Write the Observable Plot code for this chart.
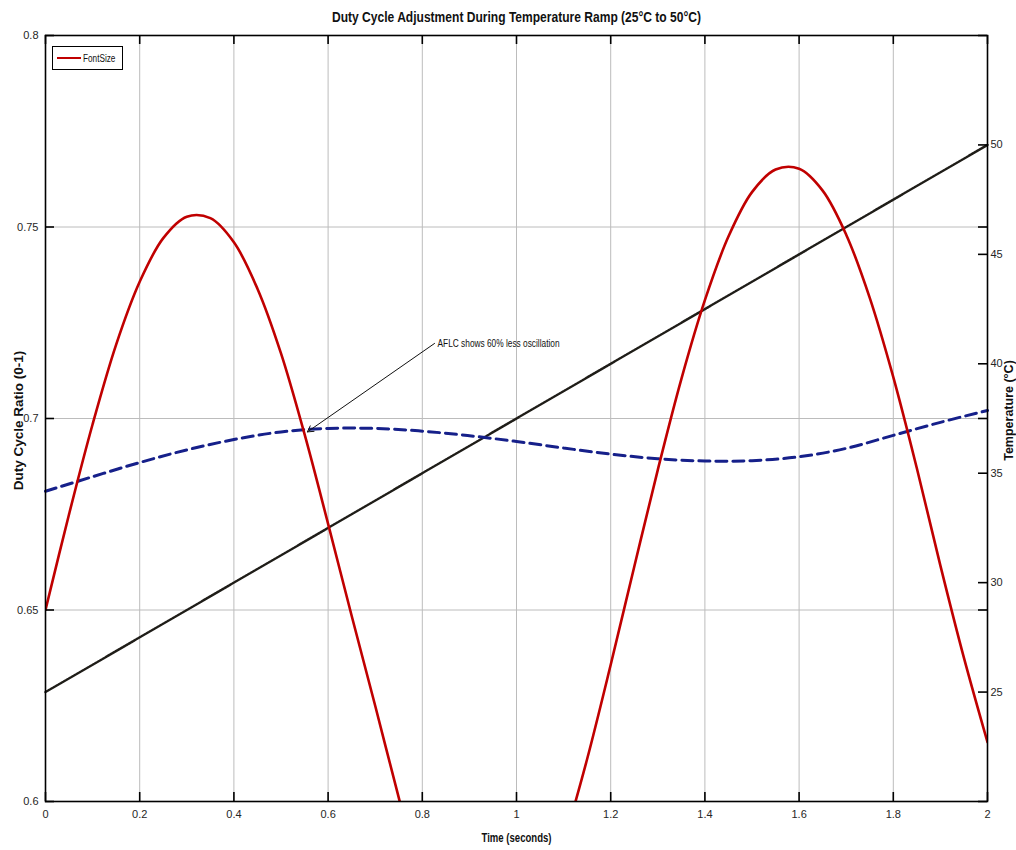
<!DOCTYPE html>
<html><head><meta charset="utf-8">
<script src="https://cdn.jsdelivr.net/npm/d3@7"></script>
<script src="https://cdn.jsdelivr.net/npm/@observablehq/plot@0.6"></script>
<style>
body{margin:0;background:#fff;}
#wrap{position:relative;width:1016px;height:850px;overflow:hidden;}
#legend{position:absolute;left:52px;top:46px;width:69px;height:22px;border:1px solid #000;background:#fff;
 font-family:"Liberation Sans",Arial,sans-serif;font-size:10px;color:#111;display:flex;align-items:center;}
#legend .sw{display:inline-block;width:27px;height:0;border-top:2.5px solid #c00000;margin:0 2px 0 4px;}
#legend .lab{display:inline-block;transform:scaleX(0.82);transform-origin:left center;white-space:nowrap;}
</style></head><body><div id="wrap"><div id="legend"><span class="sw"></span><span class="lab"></span></div></div>
<script>
const titleText = "Duty Cycle Adjustment During Temperature Ramp (25°C to 50°C)";
const xLabel = "Time (seconds)";
const yLabel = "Duty Cycle Ratio (0-1)";
const y2Label = "Temperature (°C)";
const legendLabel = "FontSize";

const redTime = [0,0.05,0.1,0.15,0.2,0.25,0.3,0.35,0.4,0.45,0.5,0.55,0.6,0.65,0.7,0.75,0.8,0.85,0.9,0.95,1.0,
  1.05,1.1,1.15,1.2,1.25,1.3,1.35,1.4,1.45,1.5,1.55,1.6,1.65,1.7,1.75,1.8,1.85,1.9,1.95,2.0];
const redDuty = [0.650,0.675,0.6985,0.7193,0.7357,0.7471,0.7527,0.7523,0.7460,0.7339,0.7170,0.6959,0.6725,0.6485,
  0.6250,0.6010,0.5780,0.5590,0.5460,0.5400,0.5480,0.5680,0.5890,0.6111,0.6357,0.6613,0.6866,0.7103,0.7309,0.7475,
  0.7591,0.7650,0.7652,0.7595,0.7480,0.7315,0.7108,0.6870,0.6616,0.6375,0.6155];

const blueTime = [0,0.1,0.2,0.3,0.4,0.5,0.6,0.7,0.8,0.9,1.0,1.1,1.2,1.3,1.4,1.5,1.6,1.7,1.8,1.9,2.0];
const blueDuty = [0.681,0.6848,0.6885,0.6918,0.6945,0.6965,0.6974,0.6974,0.6967,0.6955,0.6940,0.6923,0.6907,
  0.6895,0.6889,0.6890,0.6900,0.6922,0.6956,0.6990,0.7021];

const tempTime = [0,2];
const tempC = [25,50];

const xTicks = [0,0.2,0.4,0.6,0.8,1,1.2,1.4,1.6,1.8,2];
const yTicks = [0.6,0.65,0.7,0.75,0.8];
const tempTicks = [25,30,35,40,45,50];
const yDomain = [0.6,0.8];
const tempDomain = [20,55];

const noteText = "AFLC shows 60% less oscillation";
const noteFrom = [0.826, 0.7196];
const noteTo = [0.556, 0.6965];

// map temperature onto the left (duty) scale
const tempToY = T => yDomain[0] + (T - tempDomain[0]) / (tempDomain[1] - tempDomain[0]) * (yDomain[1] - yDomain[0]);
const yToTemp = v => tempDomain[0] + (v - yDomain[0]) / (yDomain[1] - yDomain[0]) * (tempDomain[1] - tempDomain[0]);

const W = 1016, H = 850, mL = 45, mR = 29, mT = 35, mB = 49;
const plotW = W - mL - mR, plotH = H - mT - mB;
const sans = '"Liberation Sans",Arial,sans-serif';

const red = redTime.map((t, i) => ({t, v: redDuty[i]}));
const blue = blueTime.map((t, i) => ({t, v: blueDuty[i]}));
const temp = tempTime.map((t, i) => ({t, v: tempToY(tempC[i])}));

const tk = {stroke: "#000", strokeWidth: 1.6};
const chart = Plot.plot({
  width: W, height: H, marginLeft: mL, marginRight: mR, marginTop: mT, marginBottom: mB,
  style: {fontFamily: sans, fontSize: "11px", color: "#262626", background: "#fff", overflow: "visible"},
  x: {domain: [0, 2]},
  y: {domain: yDomain},
  marks: [
    Plot.gridX(xTicks.slice(1, -1), {stroke: "#bcbcbc", strokeOpacity: 1, strokeWidth: 1}),
    Plot.gridY(yTicks.slice(1, -1), {stroke: "#bcbcbc", strokeOpacity: 1, strokeWidth: 1}),
    Plot.line(temp, {x: "t", y: "v", stroke: "#1f1d18", strokeWidth: 2.4, strokeDasharray: "2,1"}),
    Plot.line(blue, {x: "t", y: "v", stroke: "#16208a", strokeWidth: 3, strokeDasharray: "11,6", curve: "catmull-rom"}),
    Plot.line(red, {x: "t", y: "v", stroke: "#c00000", strokeWidth: 2.6, curve: "catmull-rom", clip: true}),
    Plot.tickX(xTicks, {x: d => d, insetTop: plotH - 9, ...tk}),
    Plot.tickX(xTicks, {x: d => d, insetBottom: plotH - 9, ...tk}),
    Plot.tickY(yTicks, {y: d => d, insetRight: plotW - 9, ...tk}),
    Plot.tickY(yTicks, {y: d => d, insetLeft: plotW - 9, ...tk}),
    Plot.tickY(tempTicks, {y: d => tempToY(d), insetLeft: plotW - 9, ...tk}),
    Plot.frame({stroke: "#000", strokeWidth: 1.6}),
    Plot.axisX(xTicks, {tickSize: 0, tickPadding: 9, tickFormat: d => String(d), label: null, fontSize: 11}),
    Plot.axisY(yTicks, {anchor: "left", tickSize: 0, tickPadding: 7, tickFormat: d => String(d), label: null, fontSize: 11}),
    Plot.axisY(tempTicks.map(tempToY), {anchor: "right", tickSize: 0, tickPadding: 3, tickFormat: d => String(Math.round(yToTemp(d))), label: null, fontSize: 11}),
    Plot.arrow([0], {x1: () => noteFrom[0], y1: () => noteFrom[1], x2: () => noteTo[0], y2: () => noteTo[1],
      stroke: "#111", strokeWidth: 1, headLength: 10}),
    Plot.text([noteText], {x: () => noteFrom[0], y: () => noteFrom[1], text: d => d, textAnchor: "start", dx: 3, fontSize: 10.5, fill: "#111"}),
    Plot.text([titleText], {frameAnchor: "top", dy: -18, lineAnchor: "middle", text: d => d, fontWeight: "bold", fontSize: 15, fill: "#111"}),
    Plot.text([xLabel], {frameAnchor: "bottom", dy: 37, lineAnchor: "middle", text: d => d, fontWeight: "bold", fontSize: 12, fill: "#111"}),
    Plot.text([yLabel], {frameAnchor: "left", dx: -27, dy: 2, rotate: -90, textAnchor: "middle", lineAnchor: "middle", text: d => d, fontWeight: "bold", fontSize: 13.5, fill: "#111"}),
    Plot.text([y2Label], {frameAnchor: "right", dx: 21, dy: -8, rotate: -90, textAnchor: "middle", lineAnchor: "middle", text: d => d, fontWeight: "bold", fontSize: 12.5, fill: "#111"})
  ]
});
const wrap = document.getElementById("wrap");
wrap.insertBefore(chart, wrap.firstChild);
document.querySelector("#legend .lab").textContent = legendLabel;

// the reference text is horizontally condensed: squeeze selected labels to its widths
function squeeze(str, width) {
  chart.querySelectorAll("text").forEach(t => {
    if (t.textContent === str) {
      t.setAttribute("textLength", width);
      t.setAttribute("lengthAdjust", "spacingAndGlyphs");
    }
  });
}
squeeze(titleText, 369);
squeeze(noteText, 122);
squeeze(xLabel, 70);
</script>
</body></html>
